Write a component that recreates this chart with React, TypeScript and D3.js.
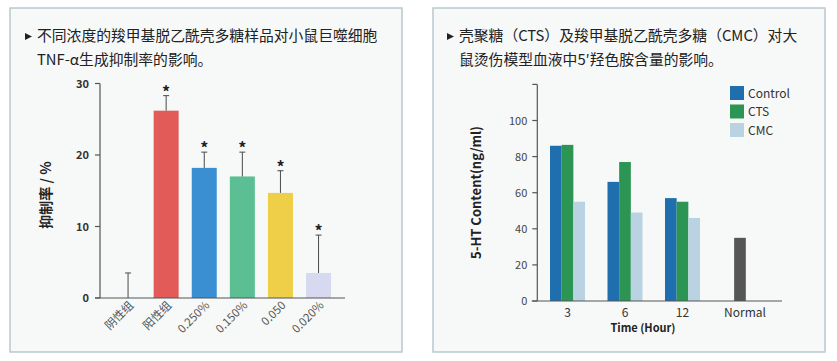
import * as d3 from 'd3'

const W = 837
const H = 361
const FONT = '"Noto Sans CJK SC", "Noto Sans", sans-serif'

// left chart: TNF-α inhibition rate
const groupsL = ['阴性组', '阳性组', '0.250%', '0.150%', '0.050', '0.020%']
const meansL = [0, 26.2, 18.2, 17.0, 14.7, 3.5]
const errL = [3.5, 2.1, 2.2, 3.4, 3.1, 5.3]
const starL = [false, true, true, true, true, true]
const colorsL = ['#ffffff', '#e35b59', '#3a8fd2', '#5bbf93', '#efcf48', '#d6d9ef']
const ticksL = [0, 10, 20, 30]

// right chart: 5-HT content
const timeGroups = ['3', '6', '12', 'Normal']
const seriesR = ['Control', 'CTS', 'CMC']
const controlVals = [86, 66, 57]
const ctsVals = [86.5, 77, 55]
const cmcVals = [55, 49, 46]
const normalVal = 35
const colorsR = ['#1f6fae', '#2d9553', '#b9d3e2']
const normalColor = '#565656'
const ticksR = [0, 20, 40, 60, 80, 100, 120]

function Panel({ x, w }: { x: number; w: number }) {
  return (
    <rect x={x} y={8} width={w} height={344} fill="#f7f8f8" stroke="#b9c9cd" strokeWidth={1.5} />
  )
}

function LeftChart() {
  const y = d3.scaleLinear().domain([0, 30]).range([298, 83.5])
  const x = d3.scaleBand<string>().domain(groupsL).range([109, 337.6]).paddingInner(0.344).paddingOuter(0.172)
  const axisX = 100
  return (
    <g>
      {/* bars */}
      {groupsL.map((g, i) =>
        meansL[i] > 0 ? (
          <rect key={g} x={x(g)} y={y(meansL[i])} width={x.bandwidth()} height={y(0) - y(meansL[i])} fill={colorsL[i]} />
        ) : null,
      )}
      {/* error bars, upper half only */}
      {groupsL.map((g, i) => {
        const cx = (x(g) ?? 0) + x.bandwidth() / 2
        const top = y(meansL[i] + errL[i])
        return (
          <g key={g} stroke="#4a4a4a" strokeWidth={1}>
            <line x1={cx} x2={cx} y1={y(meansL[i])} y2={top} />
            <line x1={cx - 3} x2={cx + 3} y1={top} y2={top} />
          </g>
        )
      })}
      {groupsL.map((g, i) =>
        starL[i] ? (
          <text key={g} x={(x(g) ?? 0) + x.bandwidth() / 2} y={y(meansL[i] + errL[i]) + 2} textAnchor="middle" fontSize={16} fontWeight="bold" fill="#222">
            *
          </text>
        ) : null,
      )}
      {/* axes */}
      <line x1={axisX} x2={axisX} y1={y(30)} y2={y(0)} stroke="#555" strokeWidth={1.2} />
      <line x1={95} x2={345} y1={y(0)} y2={y(0)} stroke="#555" strokeWidth={1.2} />
      {ticksL.map((t) => (
        <g key={t}>
          <line x1={axisX - 5} x2={axisX} y1={y(t)} y2={y(t)} stroke="#555" strokeWidth={1.2} />
          <text x={axisX - 11} y={y(t) + 4} textAnchor="end" fontSize={11} fontWeight="bold" fill="#333">
            {t}
          </text>
        </g>
      ))}
      {groupsL.map((g) => {
        const cx = (x(g) ?? 0) + x.bandwidth() / 2 + 6
        return (
          <text key={g} x={cx} y={306} textAnchor="end" fontSize={11.5} fill="#555" transform={`rotate(-45 ${cx} 306)`}>
            {g}
          </text>
        )
      })}
      <text x={51} y={195} textAnchor="middle" fontSize={14} fontWeight="bold" fill="#222" transform="rotate(-90 51 195)">
        抑制率 / %
      </text>
    </g>
  )
}

function RightChart() {
  const y = d3.scaleLinear().domain([0, 120]).range([301, 84.4])
  const x0 = d3.scaleBand<string>().domain(timeGroups).range([538.75, 768.75]).paddingInner(0.391).paddingOuter(0.196)
  const x1 = d3.scaleBand<string>().domain(seriesR).range([0, x0.bandwidth()])
  const valsBySeries = [controlVals, ctsVals, cmcVals]
  const axisX = 537.3
  return (
    <g>
      {seriesR.map((s, si) =>
        valsBySeries[si].map((v, gi) => (
          <rect
            key={s + gi}
            x={(x0(timeGroups[gi]) ?? 0) + (x1(s) ?? 0)}
            y={y(v)}
            width={x1.bandwidth()}
            height={y(0) - y(v)}
            fill={colorsR[si]}
          />
        )),
      )}
      <rect
        x={(x0('Normal') ?? 0) + x0.bandwidth() / 2 - x1.bandwidth() / 2}
        y={y(normalVal)}
        width={x1.bandwidth()}
        height={y(0) - y(normalVal)}
        fill={normalColor}
      />
      <line x1={axisX} x2={axisX} y1={y(120)} y2={y(0)} stroke="#555" strokeWidth={1.2} />
      <line x1={531.7} x2={782} y1={y(0)} y2={y(0)} stroke="#555" strokeWidth={1.2} />
      {ticksR.map((t) => (
        <g key={t}>
          <line x1={axisX - 5} x2={axisX} y1={y(t)} y2={y(t)} stroke="#555" strokeWidth={1.2} />
          {t < 120 ? (
            <text x={axisX - 10} y={y(t) + 4} textAnchor="end" fontSize={11} fill="#444">
              {t}
            </text>
          ) : null}
        </g>
      ))}
      {timeGroups.map((g) => (
        <text key={g} x={(x0(g) ?? 0) + x0.bandwidth() / 2 + (g === 'Normal' ? 5 : 0)} y={317} textAnchor="middle" fontSize={12} fill="#333">
          {g}
        </text>
      ))}
      <text x={643} y={332} textAnchor="middle" fontSize={11} fontWeight="bold" fill="#222">
        Time (Hour)
      </text>
      <text x={481} y={192.5} textAnchor="middle" fontSize={13} fontWeight="bold" fill="#222" transform="rotate(-90 481 192.5)">
        5-HT Content(ng/ml)
      </text>
      {seriesR.map((s, i) => (
        <g key={s}>
          <rect x={730} y={86 + i * 18.5} width={14} height={14} fill={colorsR[i]} />
          <text x={748} y={97.5 + i * 18.5} fontSize={12} fill="#333">
            {s}
          </text>
        </g>
      ))}
    </g>
  )
}

function Title({ x, lines }: { x: number; lines: string[] }) {
  return (
    <g fontFamily={FONT} fill="#222">
      <path d={`M${x},${33} L${x + 7},${36.5} L${x},${40} Z`} fill="#222" />
      {lines.map((l, i) => (
        <text key={i} x={x + 12} y={40.5 + i * 24} fontSize={14.8}>
          {l}
        </text>
      ))}
    </g>
  )
}

export default function App() {
  return (
    <svg width={W} height={H} style={{ position: 'absolute', left: 0, top: 0, background: '#fff' }} fontFamily={FONT}>
      <rect width={W} height={H} fill="#fff" />
      <Panel x={10} w={392} />
      <Panel x={433} w={392} />
      <Title x={25} lines={['不同浓度的羧甲基脱乙酰壳多糖样品对小鼠巨噬细胞', 'TNF-α生成抑制率的影响。']} />
      <Title x={447} lines={['壳聚糖（CTS）及羧甲基脱乙酰壳多糖（CMC）对大', '鼠烫伤模型血液中5′羟色胺含量的影响。']} />
      <LeftChart />
      <RightChart />
    </svg>
  )
}
